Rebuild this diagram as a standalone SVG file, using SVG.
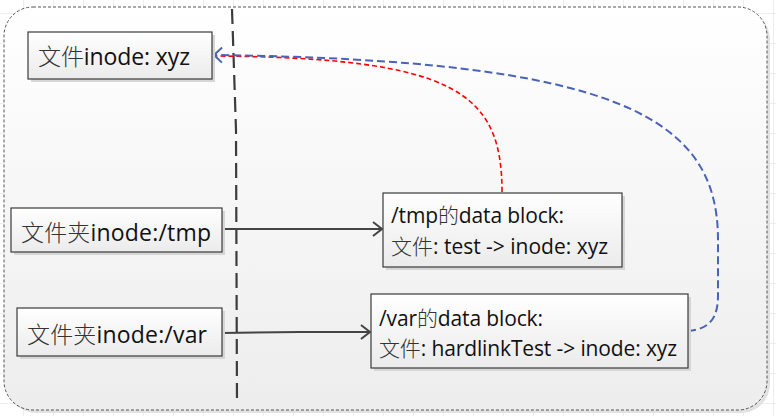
<svg xmlns="http://www.w3.org/2000/svg" width="776" height="416" viewBox="0 0 776 416">
<defs>
<linearGradient id="bg" x1="0" y1="0" x2="0" y2="1">
<stop offset="0" stop-color="#ffffff"/>
<stop offset="1" stop-color="#ededed"/>
</linearGradient>
<linearGradient id="box" x1="0" y1="0" x2="0" y2="1">
<stop offset="0" stop-color="#ffffff"/>
<stop offset="1" stop-color="#ebebeb"/>
</linearGradient>
<pattern id="grid" width="30" height="30" patternUnits="userSpaceOnUse" x="23" y="13">
<path d="M0,0 H30 M0,0 V30" fill="none" stroke="#dcdcdc" stroke-width="1"/>
</pattern>
<marker id="arr" markerWidth="12" markerHeight="16" refX="10" refY="8" orient="auto" markerUnits="userSpaceOnUse">
<path d="M1,1 L10,8 L1,15" fill="none" stroke="#444" stroke-width="2"/>
</marker>
<marker id="barr" markerWidth="12" markerHeight="18" refX="10" refY="9" orient="auto" markerUnits="userSpaceOnUse">
<path d="M2,1.5 L10,9 L2,16.5" fill="none" stroke="#4a63b8" stroke-width="2"/>
</marker>
</defs>
<style>
.node rect.b{fill:url(#box);stroke:#3a3a3a;stroke-width:1.2}
.node rect.s{fill:#d6d6d6}
.t{font-family:"Open Sans","Noto Sans CJK SC",sans-serif;fill:#111}
.cjk{font-family:"Noto Sans CJK SC",sans-serif;font-weight:300;fill:#333}
.big{font-size:23px}
.sm{font-size:21px}
.conn{fill:none}
</style>
<rect x="0" y="0" width="776" height="416" fill="#ffffff"/>
<rect x="0" y="0" width="776" height="416" fill="url(#grid)"/>
<g id="frame">
<rect x="7" y="10" width="763" height="403" rx="29" ry="29" fill="#e2e2e2"/>
<rect x="4" y="7" width="763" height="403" rx="29" ry="29" fill="url(#bg)" stroke="#555" stroke-width="1" stroke-dasharray="3,2"/>
</g>
<path id="divider" d="M232,9 L236,130 L237,405" fill="none" stroke="#3c3c3c" stroke-width="2.2" stroke-dasharray="15,7"/>
<g id="connectors">
<line class="conn" x1="222" y1="229" x2="382" y2="229" stroke="#444" stroke-width="2" marker-end="url(#arr)"/>
<path class="conn" d="M222,333 L300,332 L370,332" stroke="#444" stroke-width="2" marker-end="url(#arr)"/>
<path class="conn" d="M502,192 C502,92 455,58 216,56" stroke="#ff0000" stroke-width="1.6" stroke-dasharray="5,3"/>
<path class="conn" d="M688,331 C710,329 718,318 718,295 L718,240 C718,118 620,60 214,55" stroke="#4a63b8" stroke-width="2" stroke-dasharray="8,4" marker-end="url(#barr)"/>
</g>
<g id="node-file" class="node">
<rect class="s" x="31" y="35" width="184" height="47"/>
<rect class="b" x="28" y="32" width="184" height="47"/>
<text class="t big" x="38" y="65" textLength="152"><tspan class="cjk">文件</tspan>inode: xyz</text>
</g>
<g id="node-tmp" class="node">
<rect class="s" x="14" y="211" width="211" height="44"/>
<rect class="b" x="11" y="208" width="211" height="44"/>
<text class="t big" x="21" y="241" textLength="190"><tspan class="cjk">文件夹</tspan>inode:/tmp</text>
</g>
<g id="node-var" class="node">
<rect class="s" x="20" y="311" width="205" height="48"/>
<rect class="b" x="17" y="308" width="205" height="48"/>
<text class="t big" x="27" y="343" textLength="180"><tspan class="cjk">文件夹</tspan>inode:/var</text>
</g>
<g id="node-tmp-block" class="node">
<rect class="s" x="386" y="196" width="239" height="74"/>
<rect class="b" x="383" y="193" width="239" height="74"/>
<text class="t sm" x="391" y="223" textLength="173">/tmp<tspan class="cjk">的</tspan>data block:</text>
<text class="t sm" x="391" y="254" textLength="217"><tspan class="cjk">文件</tspan>: test -&gt; inode: xyz</text>
</g>
<g id="node-var-block" class="node">
<rect class="s" x="374" y="297" width="317" height="74"/>
<rect class="b" x="371" y="294" width="317" height="74"/>
<text class="t sm" x="379" y="326" textLength="164">/var<tspan class="cjk">的</tspan>data block:</text>
<text class="t sm" x="379" y="356" textLength="298"><tspan class="cjk">文件</tspan>: hardlinkTest -&gt; inode: xyz</text>
</g>
</svg>
